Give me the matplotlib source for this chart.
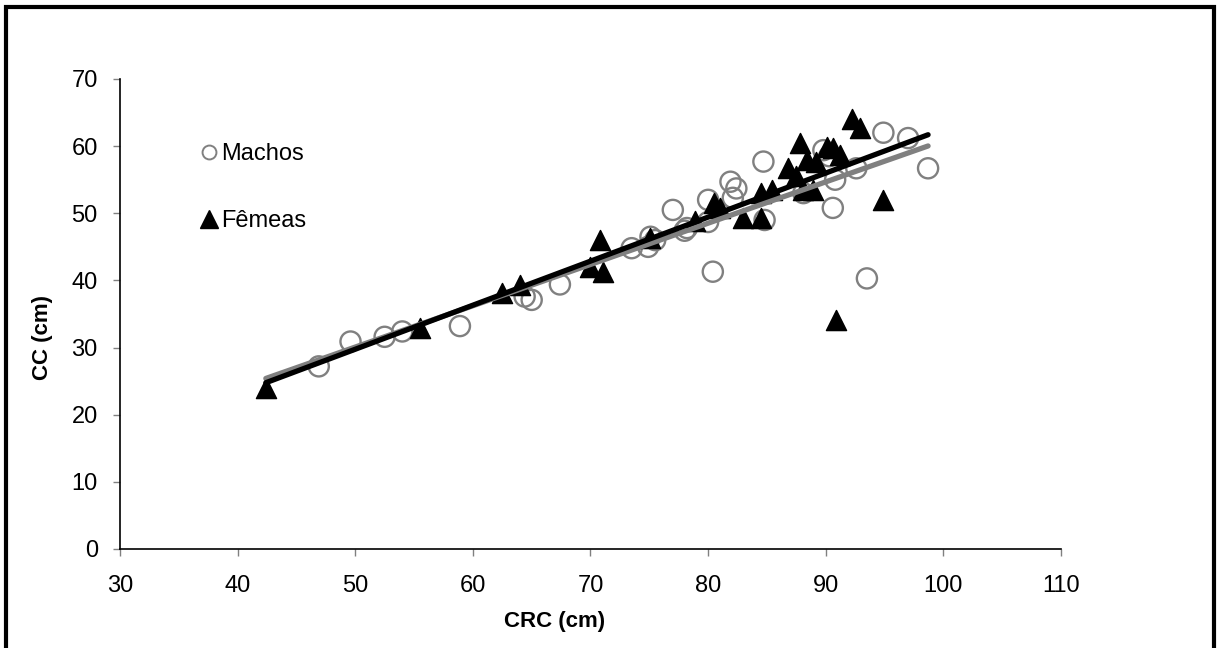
import numpy as np
import matplotlib
matplotlib.use("Agg")
import matplotlib.pyplot as plt
from matplotlib.lines import Line2D
from matplotlib.patches import Rectangle

plt.rcParams['font.family'] = ['Liberation Sans', 'DejaVu Sans']

# Machos (circles)
machos_crc = [46.9, 49.6, 52.5, 54.0, 58.9, 64.4, 65.0, 67.4, 73.5, 74.9, 75.1, 75.5,
              77.0, 78.2, 78.0, 80.0, 80.0, 80.4, 81.9, 82.4, 82.1, 84.7, 84.8, 88.1,
              89.8, 90.3, 90.6, 90.8, 92.6, 93.5, 94.9, 97.0, 98.7]
machos_cc = [27.2, 30.9, 31.6, 32.4, 33.2, 37.6, 37.1, 39.4, 44.8, 45.0, 46.5, 46.0,
             50.5, 47.8, 47.4, 52.0, 48.7, 41.3, 54.7, 53.7, 52.3, 57.7, 49.0, 53.0,
             59.4, 58.5, 50.8, 55.0, 56.7, 40.3, 62.0, 61.2, 56.7]

# Fêmeas (triangles)
femeas_crc = [42.4, 55.5, 62.5, 64.0, 70.0, 70.8, 71.1, 75.1, 78.9, 80.5, 81.0, 83.0,
              84.5, 84.5, 85.4, 86.8, 87.5, 87.8, 88.4, 88.1, 88.9, 89.2, 90.1, 90.6,
              91.2, 90.9, 92.2, 92.9, 94.9]
femeas_cc = [24.0, 32.9, 38.1, 39.3, 42.0, 46.0, 41.3, 46.3, 48.8, 51.5, 50.8, 49.3,
             49.3, 53.0, 53.5, 56.7, 55.5, 60.5, 57.9, 53.5, 53.5, 57.6, 59.8, 59.7,
             58.7, 34.1, 64.0, 62.7, 52.0]

xticks = [30, 40, 50, 60, 70, 80, 90, 100, 110]
yticks = [0, 10, 20, 30, 40, 50, 60, 70]

fig = plt.figure(figsize=(12.18, 6.48), dpi=100)
ax = fig.add_axes([0.0985, 0.1528, 0.7726, 0.7253])

grey = '#808080'
ax.scatter(machos_crc, machos_cc, s=14.5**2, marker='o', facecolors='none',
           edgecolors=grey, linewidths=1.7, zorder=3)
ax.scatter(femeas_crc, femeas_cc, s=14.5**2, marker='^', color='black', zorder=4)

# linear trendlines over the combined range
xr = np.array([min(machos_crc + femeas_crc), max(machos_crc + femeas_crc)])
pm = np.polyfit(machos_crc, machos_cc, 1)
pf = np.polyfit(femeas_crc, femeas_cc, 1)
ax.plot(xr, np.polyval(pm, xr), color=grey, lw=3.8, zorder=5, solid_capstyle='round')
ax.plot(xr, np.polyval(pf, xr), color='black', lw=3.8, zorder=6, solid_capstyle='round')

ax.set_xlim(30, 110)
ax.set_ylim(0, 70)
ax.set_xticks(xticks)
ax.set_yticks(yticks)
for s in ['top', 'right']:
    ax.spines[s].set_visible(False)
for s in ['left', 'bottom']:
    ax.spines[s].set_linewidth(1.2)
ax.tick_params(direction='out', length=5, width=1, color=grey, labelsize=17)
ax.tick_params(axis='x', pad=14)
ax.tick_params(axis='y', pad=11)
ax.set_xlabel('CRC (cm)', fontsize=16, fontweight='bold')
ax.set_ylabel('CC (cm)', fontsize=16, fontweight='bold')
ax.xaxis.set_label_coords(0.462, -0.132)
ax.yaxis.set_label_coords(-0.071, 0.449)

handles = [Line2D([], [], ls='none', marker='o', markersize=10, markerfacecolor='none',
                  markeredgecolor=grey, markeredgewidth=1.4),
           Line2D([], [], ls='none', marker='^', markersize=13, color='black')]
ax.legend(handles, ['Machos', 'Fêmeas'], loc='upper left', bbox_to_anchor=(0.072, 0.888),
          frameon=False, fontsize=17, handlelength=0.8, handletextpad=0.1,
          labelspacing=1.9, borderpad=0)

fig.add_artist(Rectangle((0.0049, -0.05), 0.9918, 1.039, transform=fig.transFigure,
                         fill=False, edgecolor='black', lw=3))

fig.savefig('out.png', dpi=100)
